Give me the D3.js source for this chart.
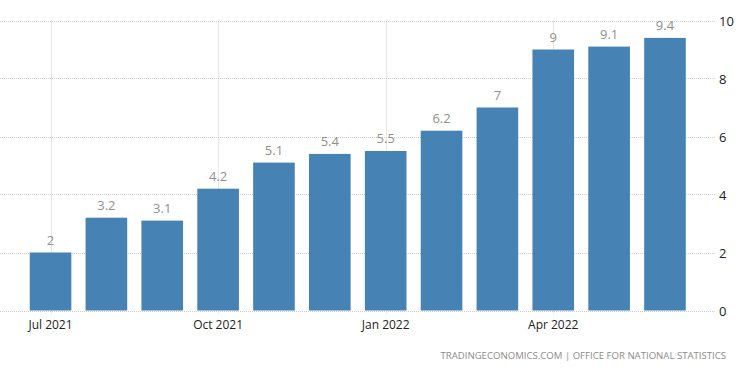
<!DOCTYPE html>
<html>
<head>
<meta charset="utf-8">
<script src="https://cdn.jsdelivr.net/npm/d3@7"></script>
<style>
  body { margin: 0; background: #fff; }
  svg text { font-family: "Open Sans", "DejaVu Sans", sans-serif; }
</style>
</head>
<body>
<svg id="chart" width="750" height="373"></svg>
<script>
// monthly values, Jul 2021 .. Jun 2022
const months = ['2021-07', '2021-08', '2021-09', '2021-10', '2021-11', '2021-12',
  '2022-01', '2022-02', '2022-03', '2022-04', '2022-05', '2022-06'];
const values = [2, 3.2, 3.1, 4.2, 5.1, 5.4, 5.5, 6.2, 7, 9, 9.1, 9.4];
const valueLabels = ['2', '3.2', '3.1', '4.2', '5.1', '5.4', '5.5', '6.2', '7', '9', '9.1', '9.4'];
const tickMonths = ['2021-07', '2021-10', '2022-01', '2022-04'];
const tickLabels = ['Jul 2021', 'Oct 2021', 'Jan 2022', 'Apr 2022'];
const yTicks = [0, 2, 4, 6, 8, 10];

const svg = d3.select('#chart');

const x = d3.scaleBand()
  .domain(months)
  .range([22.6, 692.9])
  .paddingInner(0.255)
  .paddingOuter(0.1275);

const y = d3.scaleLinear()
  .domain([0, 10])
  .range([310.5, 20.5]);

const cx = (m) => x(m) + x.bandwidth() / 2;

/* grid */
const grid = svg.append('g').attr('class', 'grid');
grid.selectAll('line.h')
  .data(yTicks)
  .join('line')
  .attr('class', 'h')
  .attr('x1', 0).attr('x2', 716)
  .attr('y1', d => Math.round(y(d)) + 0.5)
  .attr('y2', d => Math.round(y(d)) + 0.5)
  .attr('stroke', '#cfcfcf')
  .attr('stroke-dasharray', '1,1');

grid.selectAll('line.v')
  .data(tickMonths)
  .join('line')
  .attr('class', 'v')
  .attr('x1', d => Math.round(cx(d)) + 0.5)
  .attr('x2', d => Math.round(cx(d)) + 0.5)
  .attr('y1', y(10))
  .attr('y2', y(0) + 4)
  .attr('stroke', '#cfcfcf')
  .attr('stroke-dasharray', '1,1');

/* bars */
svg.append('g')
  .selectAll('rect')
  .data(values)
  .join('rect')
  .attr('x', (d, i) => x(months[i]))
  .attr('width', x.bandwidth())
  .attr('y', d => y(d))
  .attr('height', d => y(0) - y(d))
  .attr('fill', '#4682b4');

/* value labels */
svg.append('g')
  .selectAll('text')
  .data(values)
  .join('text')
  .attr('x', (d, i) => cx(months[i]))
  .attr('y', d => y(d) - 8)
  .attr('text-anchor', 'middle')
  .attr('font-size', 13)
  .attr('fill', '#909090')
  .text((d, i) => valueLabels[i]);

/* x axis labels */
svg.append('g')
  .selectAll('text')
  .data(tickMonths)
  .join('text')
  .attr('x', d => cx(d))
  .attr('y', 329)
  .attr('text-anchor', 'middle')
  .attr('font-size', 12)
  .attr('fill', '#222')
  .text((d, i) => tickLabels[i]);

/* y axis labels (right) */
svg.append('g')
  .selectAll('text')
  .data(yTicks)
  .join('text')
  .attr('x', 719)
  .attr('y', d => y(d) + 5)
  .attr('font-size', 13)
  .attr('fill', '#222')
  .text(d => d);

/* source */
svg.append('text')
  .attr('x', 726)
  .attr('y', 359)
  .attr('text-anchor', 'end')
  .attr('font-size', 9.6)
  .attr('fill', '#8c8c8c')
  .text('TRADINGECONOMICS.COM  |  OFFICE FOR NATIONAL STATISTICS');
</script>
</body>
</html>
